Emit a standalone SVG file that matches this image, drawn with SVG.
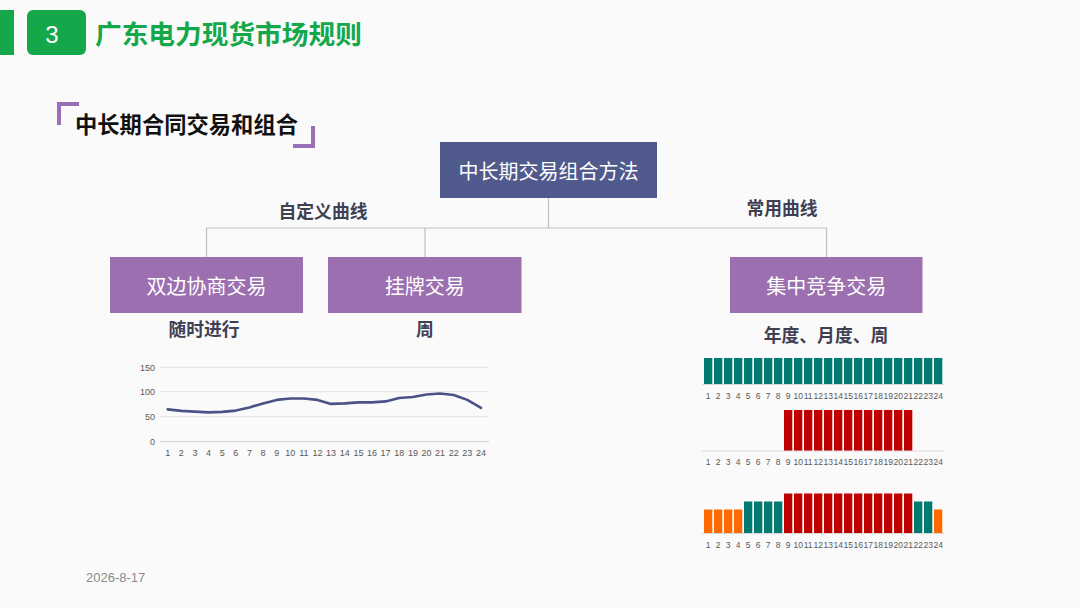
<svg xmlns="http://www.w3.org/2000/svg" xmlns:xlink="http://www.w3.org/1999/xlink" width="1080" height="608" viewBox="0 0 1080 608">
<style>
.cjk{font-family:"Noto Sans CJK SC","Noto Sans",sans-serif}
.nodeT{font-family:"Noto Sans CJK SC",sans-serif;font-size:20px;fill:#fff;text-anchor:middle;dominant-baseline:central}
.lbl{font-family:"Noto Sans CJK SC",sans-serif;font-size:17.8px;font-weight:bold;fill:#3f4052;text-anchor:middle}
.ax{font-family:"Liberation Sans",Arial,sans-serif;font-size:9px;fill:#595959}
.xl{font-family:"Liberation Sans",Arial,sans-serif;font-size:8.5px;fill:#595959;text-anchor:middle}
.conn{stroke:#bfbfbf;stroke-width:1.2;fill:none}
.grid{stroke:#e3e3e3;stroke-width:1}
.t{fill:#007a70}.r{fill:#c00000}.o{fill:#ff6a00}
</style>
<defs>
<g id="xlabels" class="xl">
<text x="708.15">1</text><text x="718.15">2</text><text x="728.15">3</text><text x="738.15">4</text><text x="748.15">5</text><text x="758.15">6</text><text x="768.15">7</text><text x="778.15">8</text><text x="788.15">9</text><text x="798.15">10</text><text x="808.15">11</text><text x="818.15">12</text><text x="828.15">13</text><text x="838.15">14</text><text x="848.15">15</text><text x="858.15">16</text><text x="868.15">17</text><text x="878.15">18</text><text x="888.15">19</text><text x="898.15">20</text><text x="908.15">21</text><text x="918.15">22</text><text x="928.15">23</text><text x="938.15">24</text>
</g>
</defs>
<rect width="1080" height="608" fill="#fafafa"/>

<g id="header">
<rect x="0" y="10" width="14" height="45" fill="#14a84a"/>
<rect x="27" y="10" width="59" height="45" rx="6" fill="#14a84a"/>
<text x="52" y="43" font-family="Liberation Sans,Arial,sans-serif" font-size="24" fill="#fff" text-anchor="middle">3</text>
<text x="95" y="44" class="cjk" font-size="26.7" font-weight="bold" fill="#14a84a">广东电力现货市场规则</text>
</g>

<g id="subtitle">
<path d="M59 125 V104 H79" stroke="#9b6fb8" stroke-width="4" fill="none"/>
<path d="M313 126 V146 H293" stroke="#9b6fb8" stroke-width="4" fill="none"/>
<text x="75" y="133" class="cjk" font-size="22.3" font-weight="bold" fill="#111">中长期合同交易和组合</text>
</g>

<g id="connectors">
<path class="conn" d="M548.5 198 V228 M206.5 228 H826.5 M206.5 228 V257 M425 228 V257 M826.5 228 V257"/>
</g>

<g id="root">
<rect x="440" y="142" width="217" height="56" fill="#515a8d"/>
<text x="548.5" y="170" class="nodeT">中长期交易组合方法</text>
</g>
<g id="bilateral">
<rect x="110" y="257" width="193" height="56" fill="#9b6fb0"/>
<text x="206.5" y="285" class="nodeT">双边协商交易</text>
</g>
<g id="listing">
<rect x="328" y="257" width="193.5" height="56" fill="#9b6fb0"/>
<text x="424.8" y="285" class="nodeT">挂牌交易</text>
</g>
<g id="centralized">
<rect x="730" y="257" width="192.5" height="56" fill="#9b6fb0"/>
<text x="826.3" y="285" class="nodeT">集中竞争交易</text>
</g>

<g id="labels">
<text x="323" y="218" class="lbl">自定义曲线</text>
<text x="782" y="215" class="lbl">常用曲线</text>
<text x="204" y="336" class="lbl">随时进行</text>
<text x="425" y="336" class="lbl">周</text>
<text x="826" y="342" class="lbl">年度、月度、周</text>
</g>

<g id="linechart">
<line class="grid" x1="160" y1="367.3" x2="489" y2="367.3"/>
<line class="grid" x1="160" y1="391.7" x2="489" y2="391.7"/>
<line class="grid" x1="160" y1="416.7" x2="489" y2="416.7"/>
<line x1="160" y1="441.7" x2="489" y2="441.7" stroke="#d0d0d0" stroke-width="1"/>
<g class="ax" text-anchor="end">
<text x="155" y="370.5">150</text><text x="155" y="395">100</text><text x="155" y="420">50</text><text x="155" y="445">0</text>
</g>
<g class="ax" text-anchor="middle">
<text x="167.7" y="456">1</text><text x="181.3" y="456">2</text><text x="194.9" y="456">3</text><text x="208.6" y="456">4</text><text x="222.2" y="456">5</text><text x="235.8" y="456">6</text><text x="249.4" y="456">7</text><text x="263" y="456">8</text><text x="276.7" y="456">9</text><text x="290.3" y="456">10</text><text x="303.9" y="456">11</text><text x="317.5" y="456">12</text><text x="331.1" y="456">13</text><text x="344.8" y="456">14</text><text x="358.4" y="456">15</text><text x="372" y="456">16</text><text x="385.6" y="456">17</text><text x="399.2" y="456">18</text><text x="412.9" y="456">19</text><text x="426.5" y="456">20</text><text x="440.1" y="456">21</text><text x="453.7" y="456">22</text><text x="467.3" y="456">23</text><text x="481" y="456">24</text>
</g>
<polyline fill="none" stroke="#4a5287" stroke-width="2.6" stroke-linejoin="round" stroke-linecap="round" points="167.7,409.4 181.3,410.9 194.9,411.6 208.6,412.4 222.2,411.9 235.8,410.6 249.4,407.4 263,403.4 276.7,399.9 290.3,398.5 303.9,398.5 317.5,399.9 331.1,403.9 344.8,403.4 358.4,402.4 372,402.4 385.6,401.4 399.2,398 412.9,397 426.5,394.5 440.1,393.5 453.7,395 467.3,399.9 481,407.9"/>
</g>

<g id="bars1">
<g class="t">
<rect x="704" y="358" width="8.3" height="26"/><rect x="714" y="358" width="8.3" height="26"/><rect x="724" y="358" width="8.3" height="26"/><rect x="734" y="358" width="8.3" height="26"/><rect x="744" y="358" width="8.3" height="26"/><rect x="754" y="358" width="8.3" height="26"/><rect x="764" y="358" width="8.3" height="26"/><rect x="774" y="358" width="8.3" height="26"/><rect x="784" y="358" width="8.3" height="26"/><rect x="794" y="358" width="8.3" height="26"/><rect x="804" y="358" width="8.3" height="26"/><rect x="814" y="358" width="8.3" height="26"/><rect x="824" y="358" width="8.3" height="26"/><rect x="834" y="358" width="8.3" height="26"/><rect x="844" y="358" width="8.3" height="26"/><rect x="854" y="358" width="8.3" height="26"/><rect x="864" y="358" width="8.3" height="26"/><rect x="874" y="358" width="8.3" height="26"/><rect x="884" y="358" width="8.3" height="26"/><rect x="894" y="358" width="8.3" height="26"/><rect x="904" y="358" width="8.3" height="26"/><rect x="914" y="358" width="8.3" height="26"/><rect x="924" y="358" width="8.3" height="26"/><rect x="934" y="358" width="8.3" height="26"/>
</g>
<line x1="702" y1="384.5" x2="944" y2="384.5" stroke="#d9d9d9"/>
<use xlink:href="#xlabels" href="#xlabels" y="399"/>
</g>

<g id="bars2">
<g class="r">
<rect x="784" y="410" width="8.3" height="41"/><rect x="794" y="410" width="8.3" height="41"/><rect x="804" y="410" width="8.3" height="41"/><rect x="814" y="410" width="8.3" height="41"/><rect x="824" y="410" width="8.3" height="41"/><rect x="834" y="410" width="8.3" height="41"/><rect x="844" y="410" width="8.3" height="41"/><rect x="854" y="410" width="8.3" height="41"/><rect x="864" y="410" width="8.3" height="41"/><rect x="874" y="410" width="8.3" height="41"/><rect x="884" y="410" width="8.3" height="41"/><rect x="894" y="410" width="8.3" height="41"/><rect x="904" y="410" width="8.3" height="41"/>
</g>
<line x1="702" y1="451" x2="944" y2="451" stroke="#d9d9d9"/>
<use xlink:href="#xlabels" href="#xlabels" y="465"/>
</g>

<g id="bars3">
<g class="o">
<rect x="704" y="509.5" width="8.3" height="24"/><rect x="714" y="509.5" width="8.3" height="24"/><rect x="724" y="509.5" width="8.3" height="24"/><rect x="734" y="509.5" width="8.3" height="24"/><rect x="934" y="509.5" width="8.3" height="24"/>
</g>
<g class="t">
<rect x="744" y="501.5" width="8.3" height="32"/><rect x="754" y="501.5" width="8.3" height="32"/><rect x="764" y="501.5" width="8.3" height="32"/><rect x="774" y="501.5" width="8.3" height="32"/><rect x="914" y="501.5" width="8.3" height="32"/><rect x="924" y="501.5" width="8.3" height="32"/>
</g>
<g class="r">
<rect x="784" y="493.5" width="8.3" height="40"/><rect x="794" y="493.5" width="8.3" height="40"/><rect x="804" y="493.5" width="8.3" height="40"/><rect x="814" y="493.5" width="8.3" height="40"/><rect x="824" y="493.5" width="8.3" height="40"/><rect x="834" y="493.5" width="8.3" height="40"/><rect x="844" y="493.5" width="8.3" height="40"/><rect x="854" y="493.5" width="8.3" height="40"/><rect x="864" y="493.5" width="8.3" height="40"/><rect x="874" y="493.5" width="8.3" height="40"/><rect x="884" y="493.5" width="8.3" height="40"/><rect x="894" y="493.5" width="8.3" height="40"/><rect x="904" y="493.5" width="8.3" height="40"/>
</g>
<line x1="702" y1="533.5" x2="944" y2="533.5" stroke="#d9d9d9"/>
<use xlink:href="#xlabels" href="#xlabels" y="547.5"/>
</g>

<text id="date" x="86" y="582" font-family="Liberation Sans,Arial,sans-serif" font-size="13" fill="#8a8a8a">2026-8-17</text>
</svg>
